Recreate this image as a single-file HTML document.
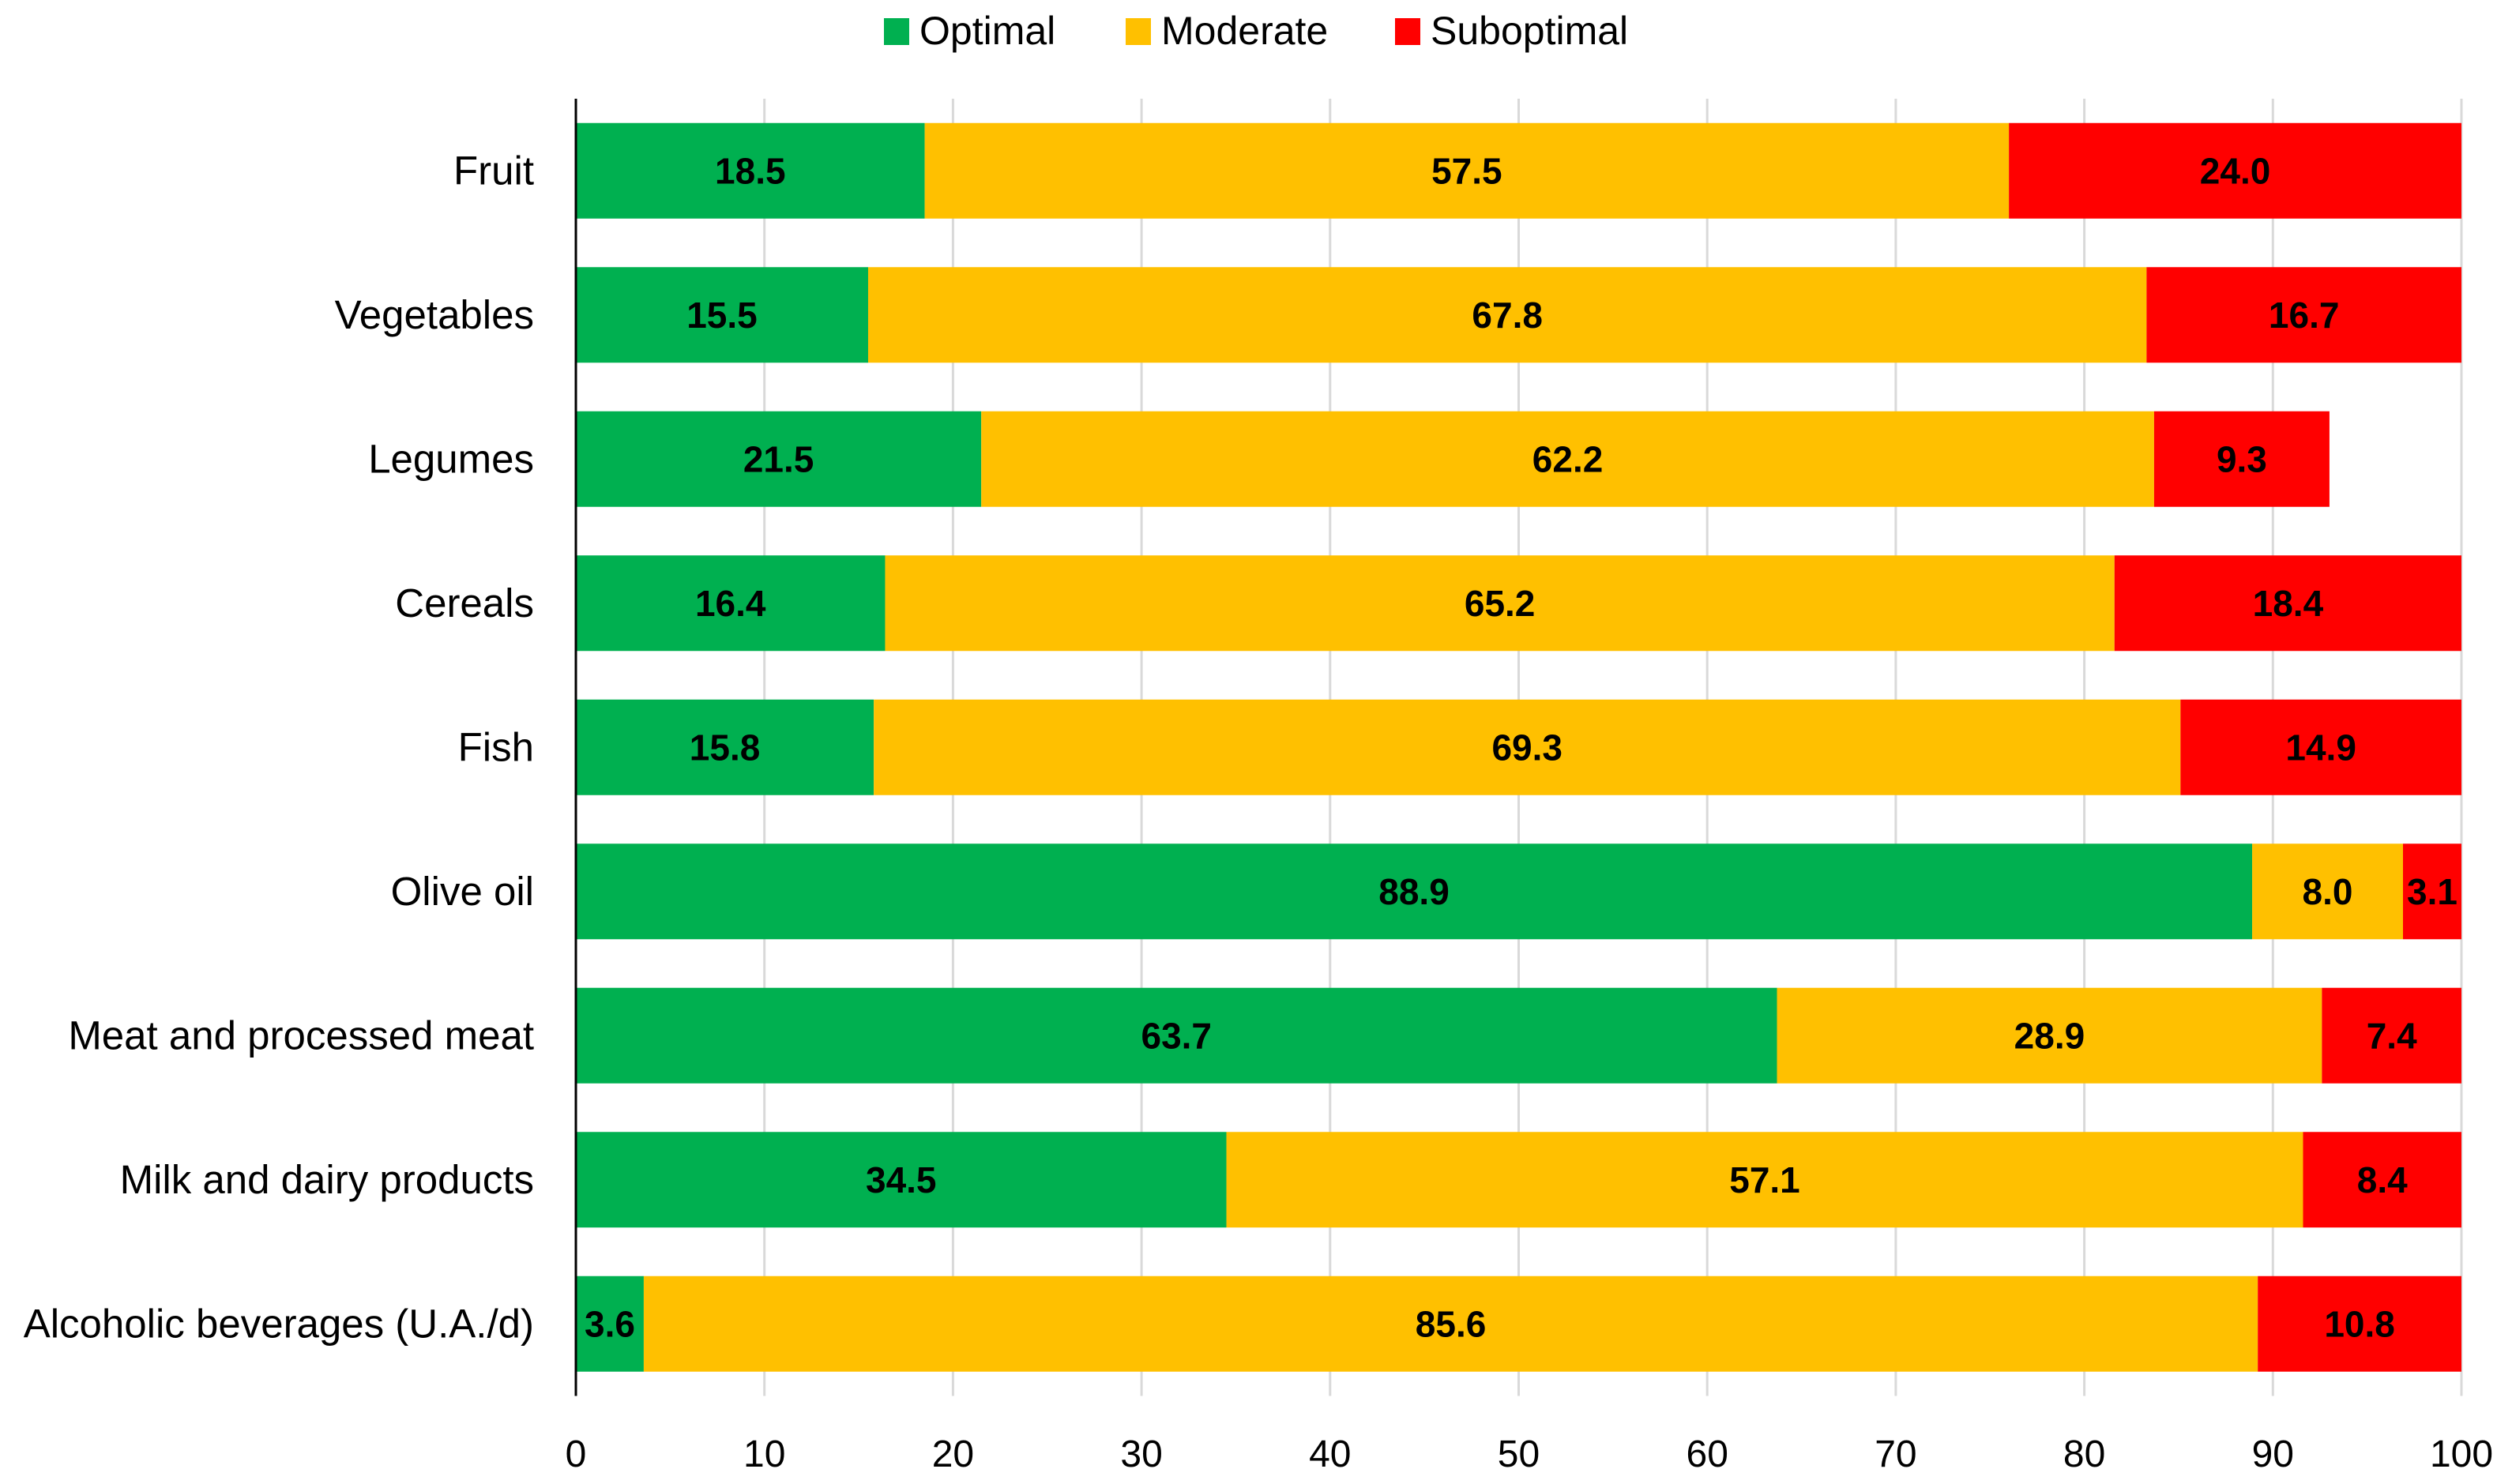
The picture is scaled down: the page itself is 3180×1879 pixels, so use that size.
<!DOCTYPE html>
<html><head><meta charset="utf-8"><style>
html,body{margin:0;padding:0;background:#fff;}
svg{display:block;font-family:"Liberation Sans",sans-serif;}
</style></head><body>
<svg id="chart" width="3180" height="1879"></svg>
<script>
const categories=["Fruit","Vegetables","Legumes","Cereals","Fish","Olive oil","Meat and processed meat","Milk and dairy products","Alcoholic beverages (U.A./d)"];
const optimal=[18.5,15.5,21.5,16.4,15.8,88.9,63.7,34.5,3.6];
const moderate=[57.5,67.8,62.2,65.2,69.3,8.0,28.9,57.1,85.6];
const suboptimal=[24.0,16.7,9.3,18.4,14.9,3.1,7.4,8.4,10.8];
const ticks=[0,10,20,30,40,50,60,70,80,90,100];
const seriesNames=["Optimal","Moderate","Suboptimal"];

const NS="http://www.w3.org/2000/svg";
const svg=document.getElementById('chart');
const X0=729,X1=3116,Y0=125,BAND=182.5,BARH=121;
const colors=["#00B050","#FFC000","#FF0000"];
function x(v){return X0+(X1-X0)*v/100;}
function yTop(i){return Y0+i*BAND+(BAND-BARH)/2;}
function mk(tag,attrs,parent){const e=document.createElementNS(NS,tag);for(const k in attrs)e.setAttribute(k,attrs[k]);(parent||svg).appendChild(e);return e;}

const grid=mk('g',{});


ticks.forEach(t=>{
  if(t>0){const l=mk('line',{x1:x(t),x2:x(t),y1:Y0,y2:Y0+BAND*categories.length,stroke:'#d9d9d9','stroke-width':3},grid);
  
  }
  const tx=mk('text',{x:x(t),y:1857,'text-anchor':'middle','font-size':48,fill:'#000'});
  tx.textContent=t;
  
  
});
const series=[optimal,moderate,suboptimal];
categories.forEach((c,i)=>{
  const lab=mk('text',{x:676,y:yTop(i)+BARH/2+17,'text-anchor':'end','font-size':51,fill:'#000'});
  lab.textContent=c;
  
  
  let acc=0;
  series.forEach((s,k)=>{
    const v=s[i];
    const r=mk('rect',{x:x(acc),y:yTop(i),width:x(acc+v)-x(acc),height:BARH,fill:colors[k]});
    
    
    const t=mk('text',{x:(x(acc)+x(acc+v))/2,y:yTop(i)+BARH/2+16,'text-anchor':'middle','font-size':46,'font-weight':'bold',fill:'#000'});
    t.textContent=v.toFixed(1);
    
    
    acc+=v;
  });
});
const ax=mk('line',{x1:X0,x2:X0,y1:Y0,y2:Y0+BAND*categories.length,stroke:'#000','stroke-width':3});


const legX=[1119,1425,1766];
seriesNames.forEach((n,k)=>{
  const g=mk('g',{});
  
  
  mk('rect',{x:legX[k],y:23,width:32,height:34,fill:colors[k]},g);
  const t=mk('text',{x:legX[k]+45,y:56,'font-size':50,fill:'#000'},g);
  t.textContent=n;
});
</script>
</body></html>
